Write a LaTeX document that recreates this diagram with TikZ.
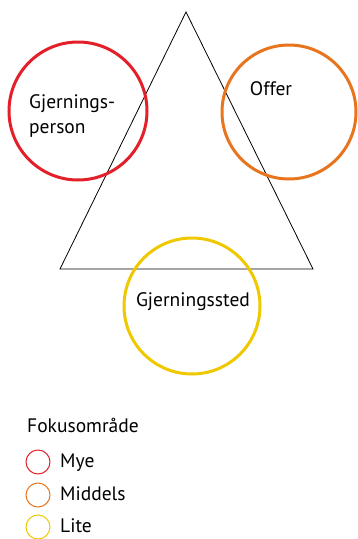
\documentclass[tikz,border=0pt]{standalone}
\usepackage{fontspec}
\setmainfont{PT Sans}
\usepackage{tikz}
\usetikzlibrary{calc}

\definecolor{myered}{HTML}{E3202A}
\definecolor{midorange}{HTML}{E8751E}
\definecolor{liteyellow}{HTML}{F0C800}

\tikzset{
  focus/.style={line width=3pt},
  legendring/.style={line width=1pt},
  label/.style={inner sep=0pt, font=\fontsize{19.5}{25}\selectfont, align=left}
}

\begin{document}
\begin{tikzpicture}[x=1pt, y=-1pt]
\useasboundingbox (0, 0) rectangle (358, 539);

\draw[line width=0.8pt] (186, 12) -- (60, 269) -- (313, 269) -- cycle;

\draw[focus, myered] (78, 111) circle (69);
\draw[focus, midorange] (289, 112) circle (67);
\draw[focus, liteyellow] (192, 306) circle (68);

\node[label, anchor=west] (gjp) at (29, 116) {Gjernings-\\person};
\node[label] (off) at (271, 89) {Offer};
\node[label] (gjs) at (193, 302) {Gjerningssted};

% legend
\node[label, anchor=west] (fokus) at (27, 425) {Fokusområde};
\draw[legendring, myered] (38, 462) circle (12);
\draw[legendring, midorange] (38, 495) circle (12);
\draw[legendring, liteyellow] (38, 527) circle (12);
\node[label, anchor=west] (mye) at (60, 463) {Mye};
\node[label, anchor=west] (middels) at (60, 494) {Middels};
\node[label, anchor=west] (lite) at (60, 526) {Lite};
\end{tikzpicture}
\end{document}
